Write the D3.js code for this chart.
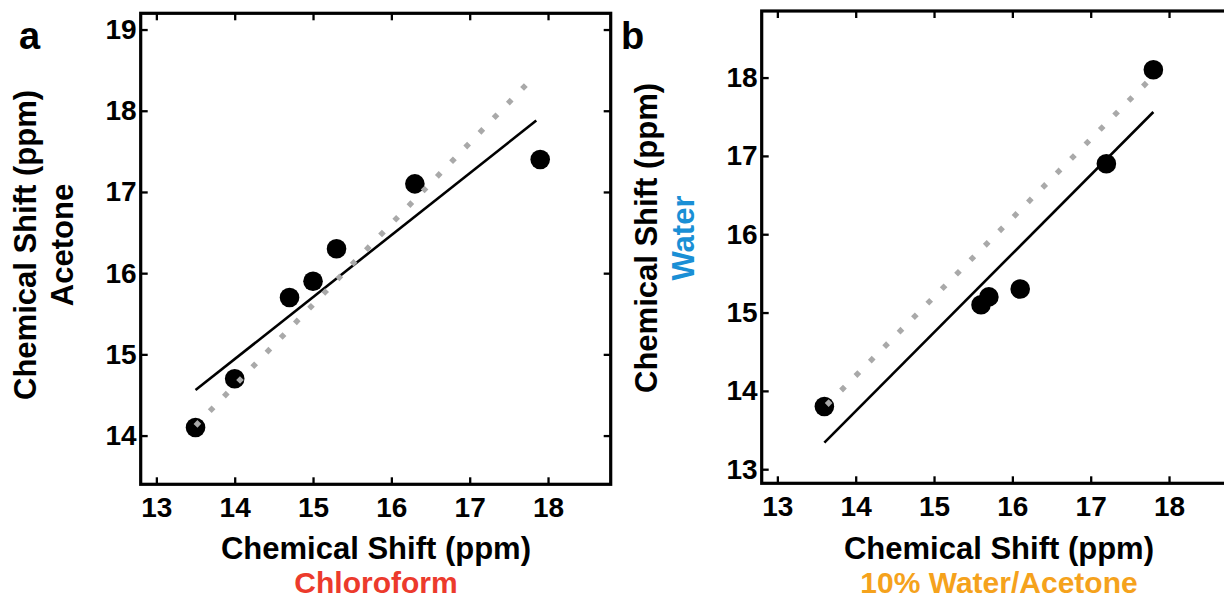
<!DOCTYPE html>
<html>
<head>
<meta charset="utf-8">
<script src="https://cdn.jsdelivr.net/npm/d3@7"></script>
<style>
  body { margin: 0; background: #fff; }
  svg { display: block; font-family: "Liberation Sans", Arial, sans-serif; font-weight: bold; }
  .tick text { font-size: 28px; fill: #000; }
  .tick line { stroke: #000; stroke-width: 2.3; }
</style>
</head>
<body>
<svg id="chart"></svg>
<script>
// panel a: chloroform (x) vs acetone (y)
const chloroformShift = [13.5, 14.0, 14.7, 15.0, 15.3, 16.3, 17.9];
const acetoneShift    = [14.1, 14.7, 15.7, 15.9, 16.3, 17.1, 17.4];
const fitAx = [13.5, 17.85];
const fitAy = [14.56, 17.88];
const refAx = [13.5, 17.75];
const refAy = [14.12, 18.35];

// panel b: 10% water/acetone (x) vs water (y)
const mixShift   = [13.6, 15.6, 15.7, 16.1, 17.2, 17.8];
const waterShift = [13.8, 15.1, 15.2, 15.3, 16.9, 18.1];
const fitBx = [13.6, 17.8];
const fitBy = [13.34, 17.56];
const refBx = [13.63, 17.74];
const refBy = [13.82, 17.96];

const xTicks  = [13, 14, 15, 16, 17, 18];
const yTicksA = [14, 15, 16, 17, 18, 19];
const yTicksB = [13, 14, 15, 16, 17, 18];
const xLimits  = [12.8, 18.8];
const yLimitsA = [13.4, 19.2];
const yLimitsB = [12.82, 18.85];

const svg = d3.select('#chart')
    .attr('width', 1224)
    .attr('height', 599);

class Panel {
    constructor(_config, _data) {
        this.config = {
            left: _config.left,
            top: _config.top,
            width: _config.width,
            height: _config.height,
            letter: _config.letter,
            letterX: _config.letterX,
            xTitle: _config.xTitle,
            xTitleX: _config.xTitleX,
            xSub: _config.xSub,
            xSubColor: _config.xSubColor,
            ySub: _config.ySub,
            ySubColor: _config.ySubColor,
            yTitleX: _config.yTitleX,
            yTitleCenter: _config.yTitleCenter,
            xLimits: _config.xLimits,
            yLimits: _config.yLimits,
            yTicks: _config.yTicks
        };
        this.data = _data;
        this.initVis();
    }

    initVis() {
        let vis = this;
        const c = vis.config;
        const fmt = d3.format('d');

        vis.xScale = d3.scaleLinear().domain(c.xLimits).range([0, c.width]);
        vis.yScale = d3.scaleLinear().domain(c.yLimits).range([c.height, 0]);

        vis.chart = svg.append('g')
            .attr('transform', `translate(${c.left},${c.top})`);

        // inner ticks on all four sides, like matlab
        vis.chart.append('g')
            .attr('transform', `translate(0,${c.height})`)
            .call(d3.axisBottom(vis.xScale).tickValues(xTicks).tickFormat(fmt).tickSizeInner(-7).tickSizeOuter(0).tickPadding(12.7))
            .call(g => g.select('.domain').remove());
        vis.chart.append('g')
            .call(d3.axisTop(vis.xScale).tickValues(xTicks).tickSizeInner(-7).tickSizeOuter(0).tickFormat(''))
            .call(g => g.select('.domain').remove());
        vis.chart.append('g')
            .call(d3.axisLeft(vis.yScale).tickValues(c.yTicks).tickFormat(fmt).tickSizeInner(-7).tickSizeOuter(0).tickPadding(4))
            .call(g => g.select('.domain').remove());
        vis.chart.append('g')
            .attr('transform', `translate(${c.width},0)`)
            .call(d3.axisRight(vis.yScale).tickValues(c.yTicks).tickSizeInner(-7).tickSizeOuter(0).tickFormat(''))
            .call(g => g.select('.domain').remove());

        vis.chart.selectAll('.tick text').attr('font-family', null);

        vis.chart.append('rect')
            .attr('width', c.width)
            .attr('height', c.height)
            .attr('fill', 'none')
            .attr('stroke', '#000')
            .attr('stroke-width', 3.2);

        // data points
        vis.chart.selectAll('.dot')
            .data(d3.range(vis.data.x.length))
            .join('circle')
            .attr('class', 'dot')
            .attr('cx', i => vis.xScale(vis.data.x[i]))
            .attr('cy', i => vis.yScale(vis.data.y[i]))
            .attr('r', 9.8)
            .attr('fill', '#000');

        vis.line = d3.line()
            .x(d => vis.xScale(d[0]))
            .y(d => vis.yScale(d[1]));

        // fitted line
        vis.chart.append('path')
            .datum(d3.zip(vis.data.fitX, vis.data.fitY))
            .attr('d', vis.line)
            .attr('fill', 'none')
            .attr('stroke', '#000')
            .attr('stroke-width', 2.6);

        // reference line: short dashes as wide as the stroke -> diamonds on a 45deg line
        vis.chart.append('path')
            .datum(d3.zip(vis.data.refX, vis.data.refY))
            .attr('d', vis.line)
            .attr('fill', 'none')
            .attr('stroke', '#a9a9a9')
            .attr('stroke-width', 5.4)
            .attr('stroke-linecap', 'butt')
            .attr('stroke-dasharray', '5.4 15');

        // titles
        svg.append('text')
            .attr('x', c.letterX)
            .attr('y', 49)
            .attr('font-size', 38)
            .text(c.letter);

        svg.append('text')
            .attr('x', c.xTitleX)
            .attr('y', 559)
            .attr('text-anchor', 'middle')
            .attr('font-size', 31)
            .text(c.xTitle);

        svg.append('text')
            .attr('x', c.xTitleX)
            .attr('y', 593)
            .attr('text-anchor', 'middle')
            .attr('font-size', 30)
            .attr('fill', c.xSubColor)
            .text(c.xSub);

        svg.append('text')
            .attr('transform', `translate(${c.yTitleX},${c.yTitleCenter}) rotate(-90)`)
            .attr('text-anchor', 'middle')
            .attr('font-size', 31)
            .text('Chemical Shift (ppm)');

        svg.append('text')
            .attr('transform', `translate(${c.yTitleX + 37},${c.yTitleCenter}) rotate(-90)`)
            .attr('text-anchor', 'middle')
            .attr('font-size', 31)
            .attr('fill', c.ySubColor)
            .text(c.ySub);
    }
}

new Panel({
    left: 140.7, top: 13.3, width: 470, height: 471,
    letter: 'a', letterX: 19,
    xTitle: 'Chemical Shift (ppm)', xTitleX: 376,
    xSub: 'Chloroform', xSubColor: '#ec3a2c',
    ySub: 'Acetone', ySubColor: '#000',
    yTitleX: 36, yTitleCenter: 245,
    xLimits: xLimits, yLimits: yLimitsA, yTicks: yTicksA
}, { x: chloroformShift, y: acetoneShift, fitX: fitAx, fitY: fitAy, refX: refAx, refY: refAy });

new Panel({
    left: 761.7, top: 11, width: 470, height: 472.3,
    letter: 'b', letterX: 621,
    xTitle: 'Chemical Shift (ppm)', xTitleX: 999,
    xSub: '10% Water/Acetone', xSubColor: '#f5a21c',
    ySub: 'Water', ySubColor: '#1a8fd5',
    yTitleX: 657, yTitleCenter: 238,
    xLimits: xLimits, yLimits: yLimitsB, yTicks: yTicksB
}, { x: mixShift, y: waterShift, fitX: fitBx, fitY: fitBy, refX: refBx, refY: refBy });
</script>
</body>
</html>
